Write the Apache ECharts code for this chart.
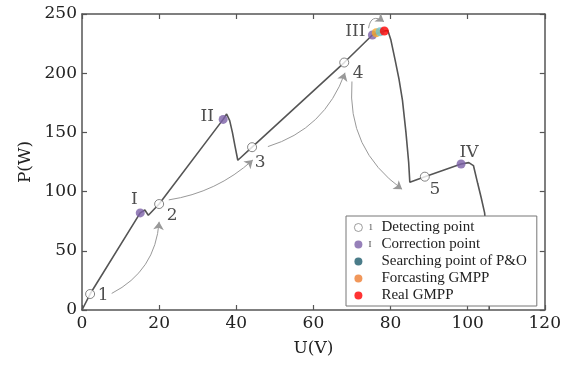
<!DOCTYPE html>
<html lang="en">
<head>
<meta charset="UTF-8">
<title>P-U curve</title>
<script src="https://cdn.jsdelivr.net/npm/echarts@6/dist/echarts.min.js"></script>
<style>
    html, body { margin: 0; padding: 0; background: #fff; }
    #box { width: 564px; height: 370px; }
</style>
</head>
<body>
<div id="box"></div>
<script>
    // P-U curve
    let curveU = [0, 2.1, 15.1, 16.3, 17.2, 20, 36.6, 37.5, 38.3, 39, 39.7, 40.4, 44.1, 68, 75.3, 78.4, 79.3, 80.1, 81.2, 82.2, 83.1, 84, 84.7, 85, 88.9, 98.3, 100.3, 101.5, 102.6, 103.5, 104.4, 105, 105.4, 105.6];
    let curveP = [0, 13.5, 82, 84.5, 80, 89.5, 161, 165.5, 160, 150, 138, 126.5, 137.5, 209, 232.3, 235.6, 236, 228, 211, 195, 177, 150, 125, 108, 112.6, 123.3, 124.5, 122, 107, 95, 82, 60, 30, 0];

    // marked points
    let detectPts = [[2.1, 13.5], [20, 89.5], [44.1, 137.5], [68, 209], [88.9, 112.6]];
    let detectLabels = ['1', '2', '3', '4', '5'];
    let correctPts = [[15.1, 82], [36.6, 161], [75.3, 232.3], [98.3, 123.3]];
    let correctLabels = ['I', 'II', 'III', 'IV'];
    let searchPts = [[77.3, 235]];
    let forecastPts = [[76.3, 234.2]];
    let realPts = [[78.4, 235.6]];

    // gray arrows
    let arrowFrom = [[7.7, 14], [22.5, 93], [48.2, 138], [70, 193], [74.3, 238]];
    let arrowTo = [[20, 74.5], [44.3, 126.7], [68.2, 200.4], [83, 102], [78.3, 243.5]];
    let arrowBend = [-0.28, -0.15, -0.25, -0.28, 0.8];

    // axis ticks
    let xTicks = [0, 20, 40, 60, 80, 100, 120];
    let yTicks = [0, 50, 100, 150, 200, 250];

    let serif = 'DejaVu Serif';
    let axisColor = '#555';

    let detectOffsets = [[13, 2], [13, 12], [8, 15], [14, 11], [10, 13]];
    let correctOffsets = [[-6, -13], [-16, -3], [-17, -3], [8, -11]];

    let chart = echarts.init(document.getElementById('box'));

    function axisBase(pos) {
        return {
            type: 'value',
            position: pos,
            min: 0,
            splitLine: { show: false },
            axisLine: { show: true, onZero: false, lineStyle: { color: axisColor, width: 1.5 } },
            axisTick: { show: true, inside: true, length: 5, lineStyle: { color: axisColor, width: 1.2 } }
        };
    }

    let xBottom = Object.assign(axisBase('bottom'), {
        max: xTicks[xTicks.length - 1], interval: 20,
        name: 'U(V)', nameLocation: 'middle', nameGap: 30,
        nameTextStyle: { fontFamily: serif, fontSize: 17, color: '#222' },
        axisLabel: { fontFamily: serif, fontSize: 17, color: '#222', margin: 5 }
    });
    let xTop = Object.assign(axisBase('top'), {
        max: xTicks[xTicks.length - 1], interval: 20, axisLabel: { show: false }
    });
    let yLeft = Object.assign(axisBase('left'), {
        max: yTicks[yTicks.length - 1], interval: 50,
        name: 'P(W)', nameLocation: 'middle', nameGap: 48,
        nameTextStyle: { fontFamily: serif, fontSize: 17, color: '#222' },
        axisLabel: { fontFamily: serif, fontSize: 17, color: '#222', margin: 5 }
    });
    let yRight = Object.assign(axisBase('right'), {
        max: yTicks[yTicks.length - 1], interval: 50, axisLabel: { show: false }
    });

    let marks = {
        'Detecting point': '1',
        'Correction point': 'I',
        'Searching point of P&O': ' ',
        'Forcasting GMPP': ' ',
        'Real GMPP': ' '
    };

    let option = {
        animation: false,
        backgroundColor: '#fff',
        grid: { left: 82, right: 19, top: 14, bottom: 60 },
        xAxis: [xBottom, xTop],
        yAxis: [yLeft, yRight],
        legend: {
            orient: 'vertical',
            left: 346,
            top: 216,
            padding: [4, 10, 3, 8],
            itemWidth: 8,
            itemHeight: 8,
            itemGap: 2,
            backgroundColor: '#fff',
            borderColor: '#777',
            borderWidth: 1,
            borderRadius: 0,
            data: [
                { name: 'Detecting point', itemStyle: { borderWidth: 0.8 } },
                { name: 'Correction point' },
                { name: 'Searching point of P&O', itemStyle: { color: '#1d5b6b' } },
                { name: 'Forcasting GMPP', itemStyle: { color: '#ed7d31' } },
                { name: 'Real GMPP' }
            ],
            formatter: function (name) {
                return '{s|' + marks[name] + '}' + name;
            },
            textStyle: {
                fontFamily: 'Liberation Serif',
                fontSize: 15,
                lineHeight: 14,
                color: '#222',
                rich: {
                    s: { width: 13, fontSize: 9, lineHeight: 14, fontFamily: 'Liberation Serif', color: '#444', padding: [0, 0, 0, 1] }
                }
            }
        },
        series: [
            {
                type: 'line',
                data: curveU.map((u, i) => [u, curveP[i]]),
                showSymbol: false,
                lineStyle: { color: '#555', width: 1.6 },
                z: 2
            },
            {
                type: 'lines',
                coordinateSystem: 'cartesian2d',
                symbol: ['none', 'arrow'],
                symbolSize: 8,
                lineStyle: { color: '#999', width: 1, opacity: 1 },
                data: arrowFrom.map((p, i) => ({
                    coords: [p, arrowTo[i]],
                    lineStyle: { curveness: arrowBend[i] }
                })),
                z: 1
            },
            {
                name: 'Detecting point',
                type: 'scatter',
                symbolSize: 9,
                itemStyle: { color: '#fff', borderColor: '#666', borderWidth: 1 },
                data: detectPts.map((p, i) => ({
                    value: p,
                    label: { offset: detectOffsets[i], formatter: detectLabels[i] }
                })),
                label: { show: true, position: 'inside', fontFamily: serif, fontSize: 17, color: '#222' },
                z: 5
            },
            {
                name: 'Correction point',
                type: 'scatter',
                symbolSize: 9,
                itemStyle: { color: '#7c60a8' },
                data: correctPts.map((p, i) => ({
                    value: p,
                    label: { offset: correctOffsets[i], formatter: correctLabels[i] }
                })),
                label: { show: true, position: 'inside', fontFamily: serif, fontSize: 17, color: '#222' },
                z: 5
            },
            {
                name: 'Forcasting GMPP',
                type: 'scatter',
                symbolSize: 9,
                itemStyle: { color: '#f2a72c' },
                data: forecastPts,
                z: 6
            },
            {
                name: 'Searching point of P&O',
                type: 'scatter',
                symbolSize: 9,
                itemStyle: { color: '#6cc4d0' },
                data: searchPts,
                z: 7
            },
            {
                name: 'Real GMPP',
                type: 'scatter',
                symbolSize: 9,
                itemStyle: { color: '#ff0000' },
                data: realPts,
                z: 8
            }
        ]
    };

    chart.setOption(option);
</script>
</body>
</html>
